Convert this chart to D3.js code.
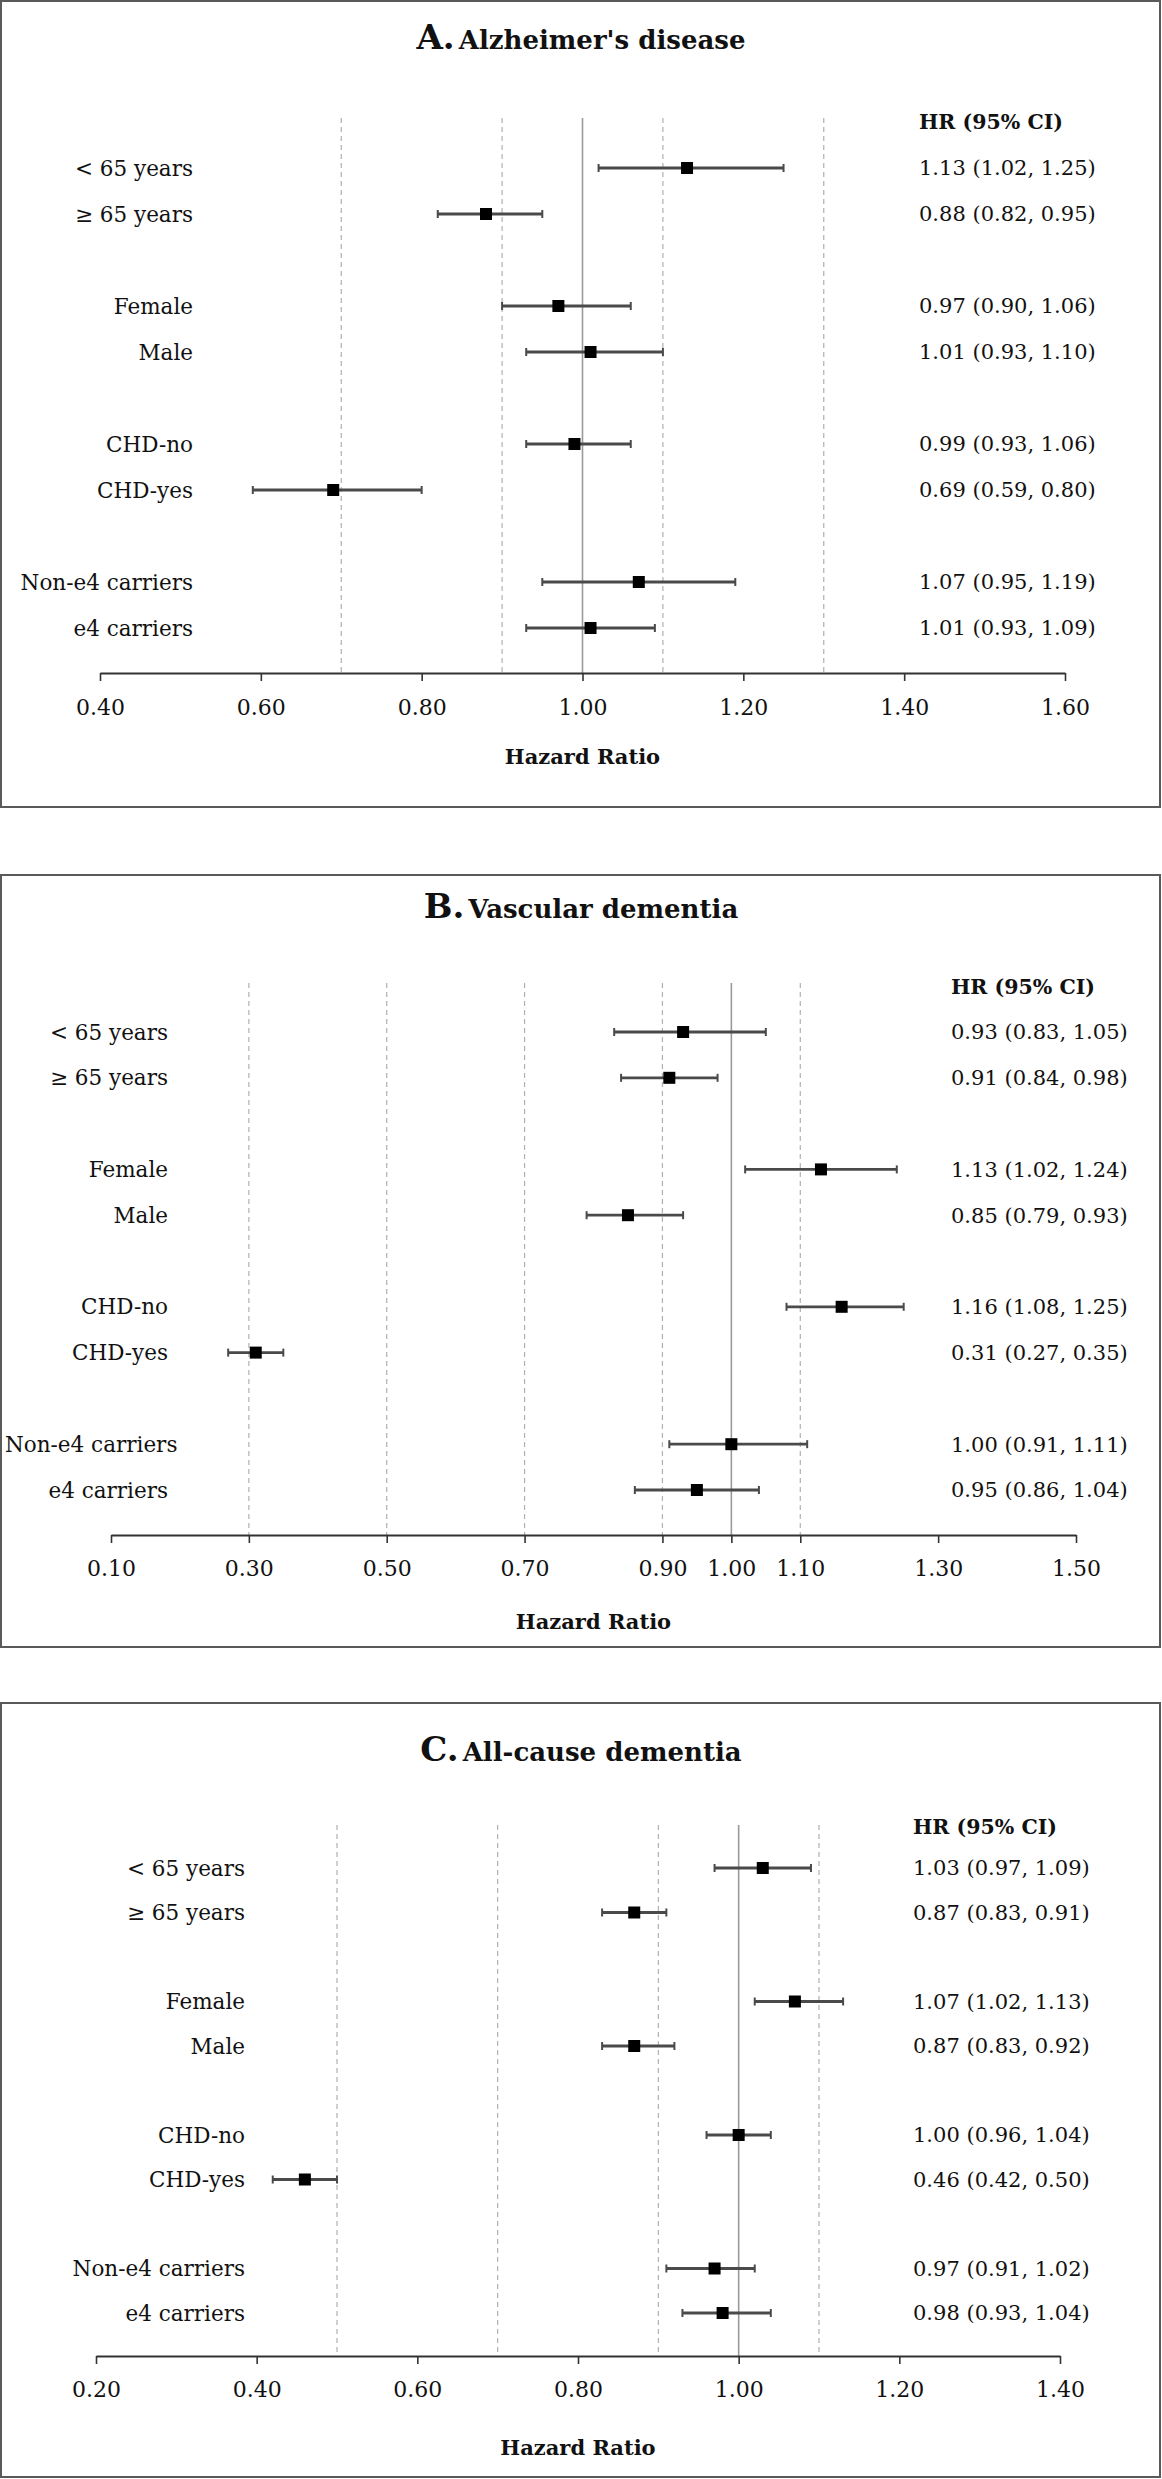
<!DOCTYPE html>
<html>
<head>
<meta charset="utf-8">
<script src="https://cdn.jsdelivr.net/npm/d3@7"></script>
<style>
  html, body { margin: 0; padding: 0; background: #fff; }
  svg { display: block; }
  text { font-family: "DejaVu Serif", "Liberation Serif", serif; fill: #111; }
</style>
</head>
<body>
<svg id="chart" width="1162" height="2479"></svg>
<script>
// ---------- DATA ----------
const rowLabels = ["< 65 years", "\u2265 65 years", "Female", "Male", "CHD-no", "CHD-yes", "Non-e4 carriers", "e4 carriers"];
const rowSlots = [0, 1, 3, 4, 6, 7, 9, 10];

const panelLetters = ["A.", "B.", "C."];
const panelTitles = ["Alzheimer's disease", "Vascular dementia", "All-cause dementia"];
const headerText = "HR (95% CI)";
const xAxisTitle = "Hazard Ratio";
const refValue = 1.0;

// A. Alzheimer's disease
const hrAlz    = [1.13, 0.88, 0.97, 1.01, 0.99, 0.69, 1.07, 1.01];
const lowerAlz = [1.02, 0.82, 0.90, 0.93, 0.93, 0.59, 0.95, 0.93];
const upperAlz = [1.25, 0.95, 1.06, 1.10, 1.06, 0.80, 1.19, 1.09];
const ticksAlz = [0.40, 0.60, 0.80, 1.00, 1.20, 1.40, 1.60];
const gridAlz  = [0.70, 0.90, 1.10, 1.30];

// B. Vascular dementia
const hrVas    = [0.93, 0.91, 1.13, 0.85, 1.16, 0.31, 1.00, 0.95];
const lowerVas = [0.83, 0.84, 1.02, 0.79, 1.08, 0.27, 0.91, 0.86];
const upperVas = [1.05, 0.98, 1.24, 0.93, 1.25, 0.35, 1.11, 1.04];
const ticksVas = [0.10, 0.30, 0.50, 0.70, 0.90, 1.00, 1.10, 1.30, 1.50];
const gridVas  = [0.30, 0.50, 0.70, 0.90, 1.10];

// C. All-cause dementia
const hrAll    = [1.03, 0.87, 1.07, 0.87, 1.00, 0.46, 0.97, 0.98];
const lowerAll = [0.97, 0.83, 1.02, 0.83, 0.96, 0.42, 0.91, 0.93];
const upperAll = [1.09, 0.91, 1.13, 0.92, 1.04, 0.50, 1.02, 1.04];
const ticksAll = [0.20, 0.40, 0.60, 0.80, 1.00, 1.20, 1.40];
const gridAll  = [0.50, 0.70, 0.90, 1.10];

// ---------- LAYOUT (pixels) ----------
const layouts = [
  { top: 1,    bottom: 807,  titleY: 43,   headerY: 122,  row0: 168,  rowN: 628,  gridTop: 118,  axisY: 673,  tickY: 34, xLabY: 757,  labelRight: 193, hrX: 919, x0: 100, x1: 1065 },
  { top: 875,  bottom: 1647, titleY: 912,  headerY: 987,  row0: 1032, rowN: 1490, gridTop: 983,  axisY: 1535, tickY: 33, xLabY: 1622, labelRight: 168, hrX: 951, x0: 111, x1: 1076 },
  { top: 1703, bottom: 2477, titleY: 1755, headerY: 1827, row0: 1868, rowN: 2313, gridTop: 1825, axisY: 2356, tickY: 33, xLabY: 2448, labelRight: 245, hrX: 913, x0: 96,  x1: 1060 }
];

const panels = [
  { hr: hrAlz, lo: lowerAlz, hi: upperAlz, ticks: ticksAlz, grid: gridAlz },
  { hr: hrVas, lo: lowerVas, hi: upperVas, ticks: ticksVas, grid: gridVas },
  { hr: hrAll, lo: lowerAll, hi: upperAll, ticks: ticksAll, grid: gridAll }
];

const svg = d3.select("#chart");
const fmt = d3.format(".2f");

panels.forEach((p, i) => {
  const L = layouts[i];
  const g = svg.append("g");

  // frame
  g.append("rect")
    .attr("x", 1).attr("y", L.top)
    .attr("width", 1159).attr("height", L.bottom - L.top)
    .attr("fill", "none").attr("stroke", "#5a5a5a").attr("stroke-width", 2);

  // title
  const t = g.append("text")
    .attr("x", 581).attr("y", L.titleY).attr("dy", "0.35em")
    .attr("text-anchor", "middle").attr("font-weight", "bold");
  t.append("tspan").attr("font-size", 34).text(panelLetters[i]);
  t.append("tspan").attr("font-size", 26).attr("dx", 4).text(panelTitles[i]);

  const x = d3.scaleLinear()
    .domain(d3.extent(p.ticks))
    .range([L.x0, L.x1]);
  const y = d3.scaleLinear()
    .domain([d3.min(rowSlots), d3.max(rowSlots)])
    .range([L.row0, L.rowN]);

  // dashed gridlines
  g.selectAll("line.grid").data(p.grid).join("line")
    .attr("class", "grid")
    .attr("x1", d => x(d)).attr("x2", d => x(d))
    .attr("y1", L.gridTop).attr("y2", L.axisY)
    .attr("stroke", "#b0b0b0").attr("stroke-width", 1.2)
    .attr("stroke-dasharray", "5,4");

  // reference line at 1.00
  g.append("line")
    .attr("x1", x(refValue)).attr("x2", x(refValue))
    .attr("y1", L.gridTop).attr("y2", L.axisY)
    .attr("stroke", "#9a9a9a").attr("stroke-width", 1.6);

  // x axis
  const axis = d3.axisBottom(x)
    .tickValues(p.ticks)
    .tickFormat(fmt)
    .tickSize(8)
    .tickSizeOuter(0);
  const ax = g.append("g")
    .attr("transform", `translate(0,${L.axisY})`)
    .call(axis);
  ax.select(".domain").attr("stroke", "#333").attr("stroke-width", 2);
  ax.selectAll(".tick line").attr("stroke", "#333").attr("stroke-width", 1.6);
  ax.selectAll(".tick text")
    .attr("y", L.tickY).attr("dy", "0.35em")
    .attr("font-size", 22)
    .attr("font-family", "DejaVu Serif, Liberation Serif, serif")
    .attr("fill", "#111");

  // axis title
  g.append("text")
    .attr("x", (L.x0 + L.x1) / 2).attr("y", L.xLabY).attr("dy", "0.35em")
    .attr("text-anchor", "middle").attr("font-weight", "bold")
    .attr("font-size", 21)
    .text(xAxisTitle);

  // header
  g.append("text")
    .attr("x", L.hrX).attr("y", L.headerY).attr("dy", "0.35em")
    .attr("font-weight", "bold").attr("font-size", 20.5)
    .text(headerText);

  const rows = rowLabels.map((lab, k) => ({
    label: lab, slot: rowSlots[k], hr: p.hr[k], lo: p.lo[k], hi: p.hi[k]
  }));

  // row labels
  g.selectAll("text.rowlab").data(rows).join("text")
    .attr("class", "rowlab")
    .attr("x", L.labelRight).attr("y", d => y(d.slot)).attr("dy", "0.35em")
    .attr("text-anchor", "end").attr("font-size", 21.5)
    .text(d => d.label)
    .each(function() {
      const b = this.getBBox();
      if (b.x < 5) d3.select(this).attr("x", L.labelRight + (5 - b.x));
    });

  // HR texts
  g.selectAll("text.hrtxt").data(rows).join("text")
    .attr("class", "hrtxt")
    .attr("x", L.hrX).attr("y", d => y(d.slot)).attr("dy", "0.35em")
    .attr("font-size", 21)
    .text(d => `${fmt(d.hr)} (${fmt(d.lo)}, ${fmt(d.hi)})`);

  // CI lines
  g.selectAll("line.ci").data(rows).join("line")
    .attr("class", "ci")
    .attr("x1", d => x(d.lo)).attr("x2", d => x(d.hi))
    .attr("y1", d => y(d.slot)).attr("y2", d => y(d.slot))
    .attr("stroke", "#4a4a4a").attr("stroke-width", 2.8);

  // caps
  ["lo", "hi"].forEach(key => {
    g.selectAll(`line.cap-${key}`).data(rows).join("line")
      .attr("class", `cap-${key}`)
      .attr("x1", d => x(d[key])).attr("x2", d => x(d[key]))
      .attr("y1", d => y(d.slot) - 4).attr("y2", d => y(d.slot) + 4)
      .attr("stroke", "#4a4a4a").attr("stroke-width", 2);
  });

  // point estimates
  const sq = 12;
  g.selectAll("rect.pt").data(rows).join("rect")
    .attr("class", "pt")
    .attr("x", d => x(d.hr) - sq / 2).attr("y", d => y(d.slot) - sq / 2)
    .attr("width", sq).attr("height", sq)
    .attr("fill", "#000");
});
</script>
</body>
</html>
